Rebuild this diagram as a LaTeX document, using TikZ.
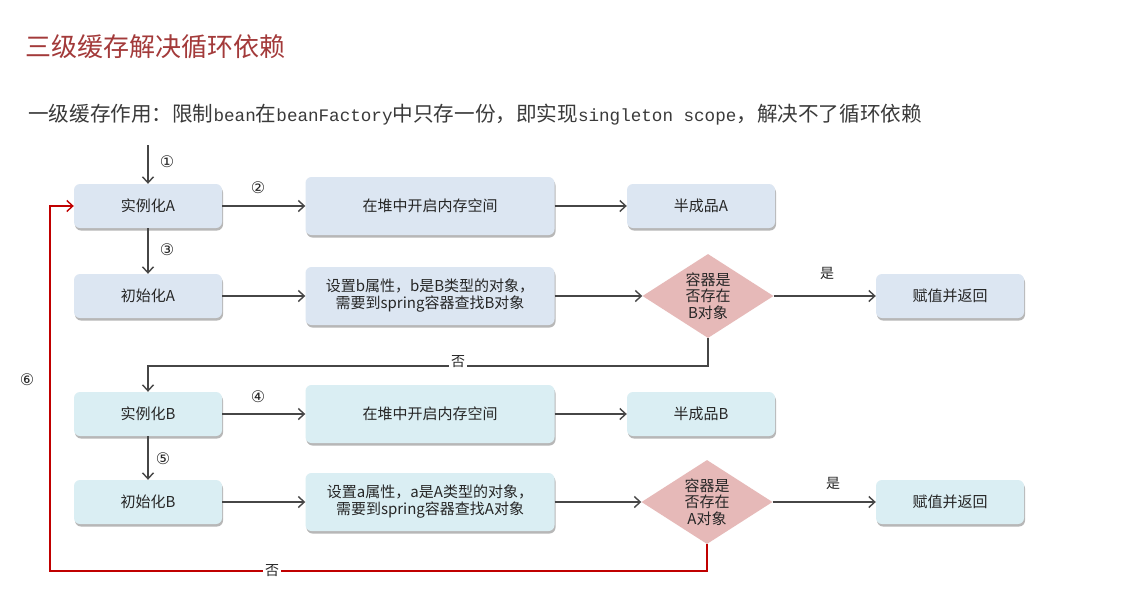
\documentclass[tikz,border=0pt]{standalone}
\usepackage{fontspec}
\setmainfont{Noto Sans CJK SC}
\newfontfamily\cjk{Noto Sans CJK SC}
\newfontfamily\monolat{Liberation Mono}
\newfontfamily\symf{DejaVu Sans}
\usetikzlibrary{shapes.geometric,shadows,arrows.meta}
\definecolor{boxA}{HTML}{DCE6F2}
\definecolor{boxB}{HTML}{DAEEF3}
\definecolor{diaC}{HTML}{E6B9B8}
\definecolor{lineC}{HTML}{464646}
\definecolor{redC}{HTML}{C00000}
\definecolor{titleC}{HTML}{A33A3A}
\definecolor{subC}{HTML}{3A3A3A}
\tikzset{
  box/.style={rounded corners=6pt, draw=none, inner sep=2pt, align=center,
    font=\fontsize{15}{17}\selectfont, text=black!85,
    drop shadow={shadow xshift=1pt, shadow yshift=-2.5pt, fill=black!40, opacity=0.7}},
  smallbox/.style={box, minimum width=148pt, minimum height=44pt},
  bigbox/.style={box, minimum width=249pt, minimum height=58pt},
  dia/.style={diamond, fill=diaC, draw=none, minimum width=131pt, minimum height=84pt, inner sep=0pt},
  diatext/.style={align=center, font=\fontsize{15}{16.5}\selectfont, text=black!85, inner sep=0pt},
  arr/.style={draw=lineC, line width=1.7pt, -{Straight Barb[length=6pt,width=11pt,line width=1.4pt]}},
  redarr/.style={draw=redC, line width=1.7pt, -{Straight Barb[length=6pt,width=11pt,line width=1.4pt]}},
  num/.style={font=\symf\fontsize{16}{18}\selectfont, text=black!85, inner sep=1pt},
  lbl/.style={font=\fontsize{14}{16}\selectfont, text=black!85, fill=white, inner sep=2pt}
}
\begin{document}
\begin{tikzpicture}[x=1pt,y=-1pt]
\useasboundingbox (0,0) rectangle (1125,592);
\fill[white] (0,0) rectangle (1125,592);
% title
\node[anchor=west, inner sep=0pt, text=titleC, font=\fontsize{26}{30}\selectfont] (title) at (25,47) {三级缓存解决循环依赖};
\node[anchor=west, inner sep=0pt, text=subC, font=\fontsize{20.6}{25}\selectfont] (sub) at (28,115)
 {一级缓存作用：限制{\monolat\fontsize{17.6}{25}\selectfont bean}在{\monolat\fontsize{17.6}{25}\selectfont beanFactory}中只存一份，即实现{\monolat\fontsize{17.6}{25}\selectfont singleton scope}，解决不了循环依赖};
% row 1
\node[smallbox, fill=boxA] (a1) at (148,206) {实例化A};
\node[bigbox, fill=boxA] (heapA) at (430,206) {在堆中开启内存空间};
\node[smallbox, fill=boxA] (halfA) at (701,206) {半成品A};
% row 2
\node[smallbox, fill=boxA] (initA) at (148,296) {初始化A};
\node[bigbox, fill=boxA] (setb) at (430,296) {设置b属性，b是B类型的对象，\\需要到spring容器查找B对象};
\node[dia] (d1) at (708,296) {};
\node[diatext] (d1t) at (d1) {容器是\\否存在\\B对象};
\node[smallbox, fill=boxA] (retA) at (950,296) {赋值并返回};
% row 3
\node[smallbox, fill=boxB] (b1) at (148,414) {实例化B};
\node[bigbox, fill=boxB] (heapB) at (430,414) {在堆中开启内存空间};
\node[smallbox, fill=boxB] (halfB) at (701,414) {半成品B};
% row 4
\node[smallbox, fill=boxB] (initB) at (148,502) {初始化B};
\node[bigbox, fill=boxB] (seta) at (430,502) {设置a属性，a是A类型的对象，\\需要到spring容器查找A对象};
\node[dia] (d2) at (707,502) {};
\node[diatext] (d2t) at (d2) {容器是\\否存在\\A对象};
\node[smallbox, fill=boxB] (retB) at (950,502) {赋值并返回};
% connectors
\coordinate (start) at (148,145);
\draw[arr] (start) -- (a1.north);
\draw[arr] (a1.east) -- (heapA.west);
\draw[arr] (heapA.east) -- (halfA.west);
\draw[arr] (a1.south) -- (initA.north);
\draw[arr] (initA.east) -- (setb.west);
\draw[arr] (setb.east) -- (d1.west);
\draw[arr] (d1.east) -- (retA.west);
\draw[arr] (d1.south) -- ++(0,28) -| (b1.north);
\draw[arr] (b1.east) -- (heapB.west);
\draw[arr] (heapB.east) -- (halfB.west);
\draw[arr] (b1.south) -- (initB.north);
\draw[arr] (initB.east) -- (seta.west);
\draw[arr] (seta.east) -- (d2.west);
\draw[arr] (d2.east) -- (retB.west);
\draw[redarr] (d2.south) -- ++(0,27) -| ([xshift=-24pt]a1.west) -- (a1.west);
% labels
\node[num] (n1) at (167,162) {①};
\node[num] (n2) at (258,188) {②};
\node[num] (n3) at (167,250) {③};
\node[num] (n4) at (258,397) {④};
\node[num] (n5) at (163,459) {⑤};
\node[num] (n6) at (27,380) {⑥};
\node[lbl, fill=none] (y1) at (827,273) {是};
\node[lbl, fill=none] (y2) at (833,483) {是};
\node[lbl] (no1) at (458,362) {否};
\node[lbl] (no2) at (272,571) {否};
\end{tikzpicture}
\end{document}
